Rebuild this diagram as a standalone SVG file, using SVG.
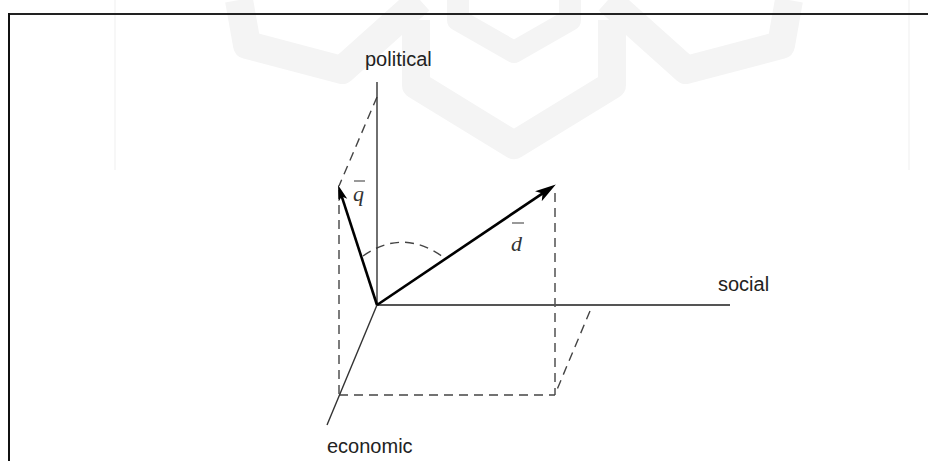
<svg xmlns="http://www.w3.org/2000/svg" width="928" height="461" viewBox="0 0 928 461">
  <style>
    .wm { fill: none; stroke: #f4f4f4; stroke-linejoin: round; }
    .axis { stroke: #333; stroke-width: 1.4; fill: none; }
    .vec { stroke: #000; stroke-width: 2.6; fill: none; }
    .dash { stroke: #444; stroke-width: 1.4; fill: none; stroke-dasharray: 9 6; }
    .lbl { font-family: "Liberation Sans", Arial, sans-serif; font-size: 20px; fill: #222; }
    .var { font-family: "Liberation Serif", "Times New Roman", serif; font-style: italic; font-size: 22px; fill: #333; }
    .bar { stroke: #555; stroke-width: 1.2; }
  </style>
  <defs>
    <marker id="headD" markerUnits="userSpaceOnUse" markerWidth="22" markerHeight="14" refX="10" refY="6" orient="auto">
      <path d="M0,0 L21,6 L0,12 L5,6 z" fill="#000"/>
    </marker>
    <marker id="headQ" markerUnits="userSpaceOnUse" markerWidth="18" markerHeight="10" refX="8" refY="4.5" orient="auto">
      <path d="M0,0 L16,4.5 L0,9 L4,4.5 z" fill="#000"/>
    </marker>
  </defs>

  <rect x="0" y="0" width="928" height="461" fill="#fff"/>

  <g id="watermark">
    <line x1="115" y1="0" x2="115" y2="170" stroke="#efefef" stroke-width="1"/>
    <line x1="909" y1="0" x2="909" y2="170" stroke="#efefef" stroke-width="1"/>
    <path class="wm" stroke-width="28" d="M239,0 L247,45 L342,70 L420,0"/>
    <path class="wm" stroke-width="28" d="M789,0 L781,45 L686,70 L608,0"/>
    <path class="wm" stroke-width="28" d="M416,20 L416,85 L514,145 L612,85 L612,20"/>
    <path class="wm" stroke-width="22" d="M458,0 L458,20 L514,52 L570,20 L570,0"/>
  </g>

  <g id="frame">
    <line x1="9" y1="14" x2="928" y2="14" stroke="#222" stroke-width="2"/>
    <line x1="9" y1="13" x2="9" y2="461" stroke="#111" stroke-width="2"/>
  </g>

  <g id="projections">
    <line class="dash" x1="377" y1="97" x2="339" y2="186"/>
    <line class="dash" x1="339" y1="190" x2="339" y2="395"/>
    <line class="dash" x1="339" y1="395" x2="555" y2="395"/>
    <line class="dash" x1="555" y1="193" x2="555" y2="395"/>
    <line class="dash" x1="590" y1="311" x2="556" y2="392"/>
    <path class="dash" d="M363,256 Q403,228 443,257"/>
  </g>

  <g id="axes">
    <line id="axis-political" class="axis" x1="377" y1="82" x2="377" y2="305"/>
    <line id="axis-social" x1="377" y1="305" x2="730" y2="305" stroke="#555" stroke-width="2.2"/>
    <line id="axis-economic" class="axis" x1="377" y1="305" x2="327" y2="425"/>
  </g>

  <g id="vectors">
    <line id="vec-q" class="vec" x1="377" y1="305" x2="340.5" y2="192.6" marker-end="url(#headQ)"/>
    <line id="vec-d" class="vec" x1="377" y1="305" x2="546.7" y2="190.6" marker-end="url(#headD)"/>
  </g>

  <g id="labels">
    <text class="lbl" x="365" y="66">political</text>
    <text class="lbl" x="718" y="291">social</text>
    <text class="lbl" x="327" y="453">economic</text>
    <g id="label-q">
      <line class="bar" x1="354" y1="181" x2="365" y2="181"/>
      <text class="var" x="353" y="201">q</text>
    </g>
    <g id="label-d">
      <line class="bar" x1="512" y1="223" x2="524" y2="223"/>
      <text class="var" x="511" y="251">d</text>
    </g>
  </g>
</svg>
